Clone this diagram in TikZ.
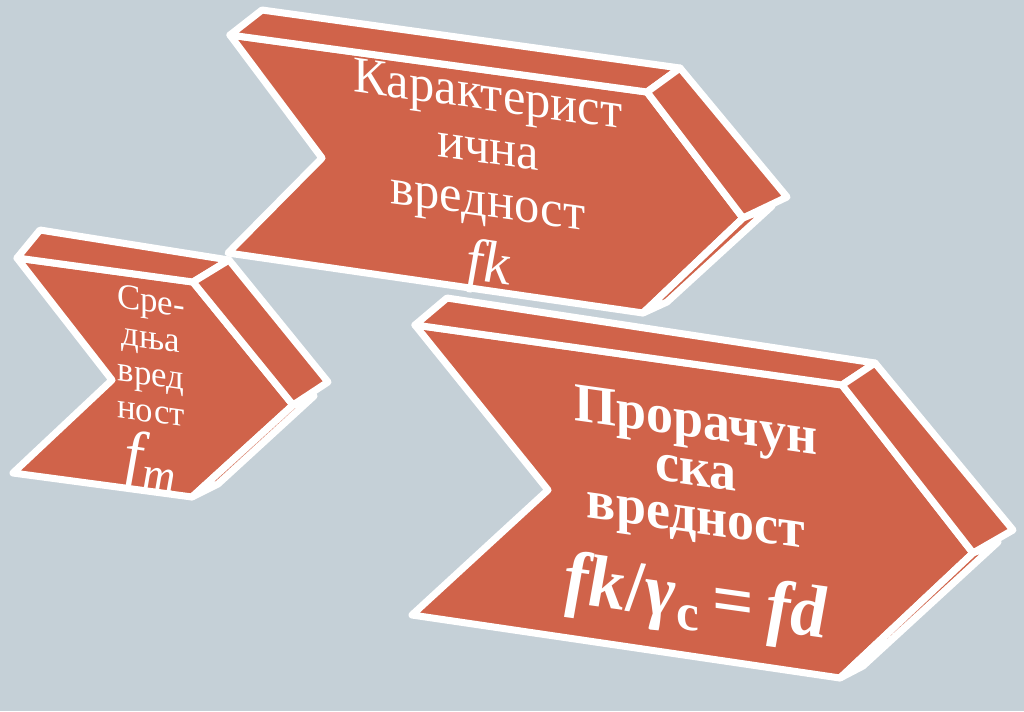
\documentclass[tikz,border=0pt]{standalone}
\usepackage{fontspec}
\setmainfont{Liberation Serif}
\definecolor{bgblue}{RGB}{197,208,215}
\definecolor{chev}{RGB}{208,99,74}
\tikzset{
  face/.style={fill=chev,draw=white,line width=2pt,line join=round},
  lbl/.style={text=white,rotate=-8,xslant=-0.14,inner sep=0pt,align=center}
}
\begin{document}
\begin{tikzpicture}[x=0.01cm,y=-0.01cm]
\fill[bgblue] (0,0) rectangle (1024,711);
\useasboundingbox (0,0) rectangle (1024,711);
% characteristic value
\draw[face] (230,35) -- (647,92) -- (743,218) -- (643,313) -- (228,253) -- (322,158) -- cycle;
\draw[face] (230,35) -- (262,10) -- (680,68) -- (647,92) -- cycle;
\draw[face] (647,92) -- (680,68) -- (787,197) -- (743,218) -- cycle;
\draw[face] (743,218) -- (772,206) -- (667,302) -- (643,313) -- cycle;
\node[lbl,font=\fontsize{14.5}{15}\selectfont] (kar) at (488,186)
  {Карактерист\\ична\\вредност\\[2.5pt]{\fontsize{17}{17}\selectfont\itshape fk}};
% mean value
\draw[face] (17,258) -- (193,282) -- (293,405) -- (192,497) -- (13,473) -- (112,380) -- cycle;
\draw[face] (17,258) -- (40,230) -- (229,260) -- (193,282) -- cycle;
\draw[face] (193,282) -- (229,260) -- (328,382) -- (293,405) -- cycle;
\draw[face] (293,405) -- (314,396) -- (218,484) -- (192,497) -- cycle;
\node[lbl,font=\fontsize{10}{10.3}\selectfont] (sred) at (151,392)
  {Сре-\\дња\\вред\\ност\\[2pt]{\fontsize{19}{19}\selectfont\itshape f\textsubscript{m}}};
% design value
\draw[face] (415,325) -- (842,385) -- (973,553) -- (840,678) -- (412,615) -- (548,490) -- cycle;
\draw[face] (415,325) -- (447,298) -- (875,363) -- (842,385) -- cycle;
\draw[face] (842,385) -- (875,363) -- (1013,530) -- (973,553) -- cycle;
\draw[face] (973,553) -- (998,542) -- (863,666) -- (840,678) -- cycle;
\node[lbl,font=\bfseries\fontsize{15.5}{13.4}\selectfont] (pror) at (696,519)
  {Прорачун\\ска\\вредност\\[5.5pt]{\fontsize{21}{21}\selectfont{\itshape fk}/{\itshape γ}\textsubscript{c}\,=\,{\itshape fd}}};
\end{tikzpicture}
\end{document}
